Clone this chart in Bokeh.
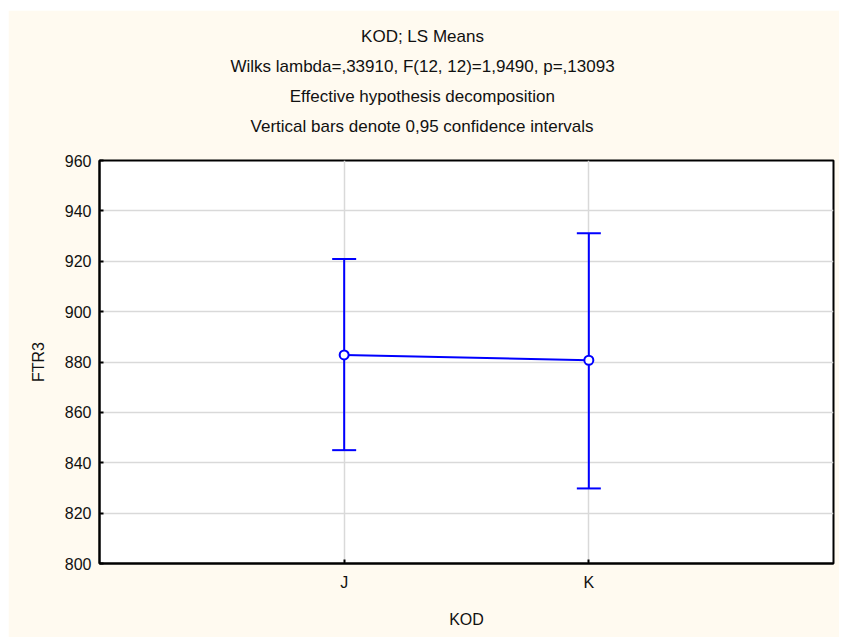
from bokeh.plotting import figure
from bokeh.models import ColumnDataSource, Whisker, TeeHead, FixedTicker, Title, Range1d
from bokeh.embed import file_html
from bokeh.resources import INLINE

# ---- data ----
categories = ["J", "K"]
cat_pos = [1, 2]
means = [882.8, 880.7]
lower = [845.0, 829.8]
upper = [920.9, 931.1]
y_ticks = [800, 820, 840, 860, 880, 900, 920, 940, 960]
title_lines = [
    "KOD; LS Means",
    "Wilks lambda=,33910, F(12, 12)=1,9490, p=,13093",
    "Effective hypothesis decomposition",
    "Vertical bars denote 0,95 confidence intervals",
]
x_label = "KOD"
y_label = "FTR3"

FONT = "Liberation Sans"
BG = "#FFFAF0"
BLUE = "#0000FF"
TITLE_PX = 17

W, H = 831, 627
ML, MR, MT, MB = 91, 6, 150, 74

# Arial / Liberation Sans advance widths (1/1000 em), used to centre header
# lines on the whole canvas rather than on the frame
ADV = {" ": 278, ";": 278, ",": 278, ".": 278, "=": 584, "(": 333, ")": 333,
       "a": 556, "b": 556, "c": 500, "d": 556, "e": 556, "f": 278, "g": 556,
       "h": 556, "i": 222, "k": 500, "l": 222, "m": 833, "n": 556, "o": 556,
       "p": 556, "r": 333, "s": 500, "t": 278, "u": 556, "v": 500, "y": 500,
       "D": 722, "E": 667, "F": 611, "K": 667, "L": 556, "M": 833, "O": 778,
       "S": 667, "V": 667, "W": 944}


def text_width(s, px):
    return sum(ADV.get(c, 556) for c in s) * px / 1000.0


src = ColumnDataSource(dict(x=cat_pos, mean=means, lower=lower, upper=upper))

p = figure(width=W, height=H, output_backend="svg", toolbar_location=None,
           x_range=Range1d(0, 3), y_range=Range1d(800, 960),
           min_border_left=ML, min_border_right=MR, min_border_bottom=MB, min_border_top=MT)
p.margin = (10, 0, 0, 8)

p.background_fill_color = "white"
p.border_fill_color = BG
p.outline_line_color = "black"
p.outline_line_width = 2

# spacer between header block and frame
p.add_layout(Title(text=" ", text_font=FONT, text_font_size="10px", standoff=6,
                   vertical_align="middle"), "above")
# header lines (added bottom-up: later ones sit further from the plot)
canvas_center = 414
for t in reversed(title_lines):
    off = canvas_center - ML - text_width(t, TITLE_PX) / 2.0
    p.add_layout(Title(text=t, align="left", offset=off, vertical_align="middle",
                       text_font=FONT, text_font_size=f"{TITLE_PX}px",
                       text_font_style="normal", text_color="#111111",
                       standoff=9), "above")

# axes
p.xaxis.ticker = FixedTicker(ticks=cat_pos)
p.xaxis.major_label_overrides = {c: lab for c, lab in zip(cat_pos, categories)}
p.yaxis.ticker = FixedTicker(ticks=y_ticks)
for ax in (p.xaxis, p.yaxis):
    ax.major_label_text_font = FONT
    ax.major_label_text_font_size = "16px"
    ax.major_label_text_color = "#111111"
    ax.axis_label_text_font = FONT
    ax.axis_label_text_font_size = "16px"
    ax.axis_label_text_font_style = "normal"
    ax.axis_label_text_color = "#111111"
    ax.axis_line_color = "black"
    ax.axis_line_width = 2
    ax.major_tick_in = 4
    ax.major_tick_out = 0
    ax.major_tick_line_color = "black"
    ax.major_tick_line_width = 2
    ax.minor_tick_line_color = None
p.xaxis.axis_label = x_label
p.yaxis.axis_label = y_label
p.xaxis.major_label_standoff = 10
p.xaxis.axis_label_standoff = 17
p.yaxis.major_label_standoff = 8
p.yaxis.axis_label_standoff = 15

p.xgrid.ticker = FixedTicker(ticks=cat_pos)
p.ygrid.ticker = FixedTicker(ticks=y_ticks)
for g in (p.xgrid, p.ygrid):
    g.grid_line_color = "#D9D9D9"
    g.grid_line_width = 1.5

# error bars
w = Whisker(source=src, base="x", lower="lower", upper="upper", dimension="height",
            line_color=BLUE, line_width=2,
            upper_head=TeeHead(size=24, line_color=BLUE, line_width=2),
            lower_head=TeeHead(size=24, line_color=BLUE, line_width=2))
p.add_layout(w)

p.line("x", "mean", source=src, line_color=BLUE, line_width=2)
p.scatter("x", "mean", source=src, marker="circle", size=9, line_color=BLUE,
          line_width=2, fill_color="white")

open("out.html", "w").write(file_html(p, INLINE))
